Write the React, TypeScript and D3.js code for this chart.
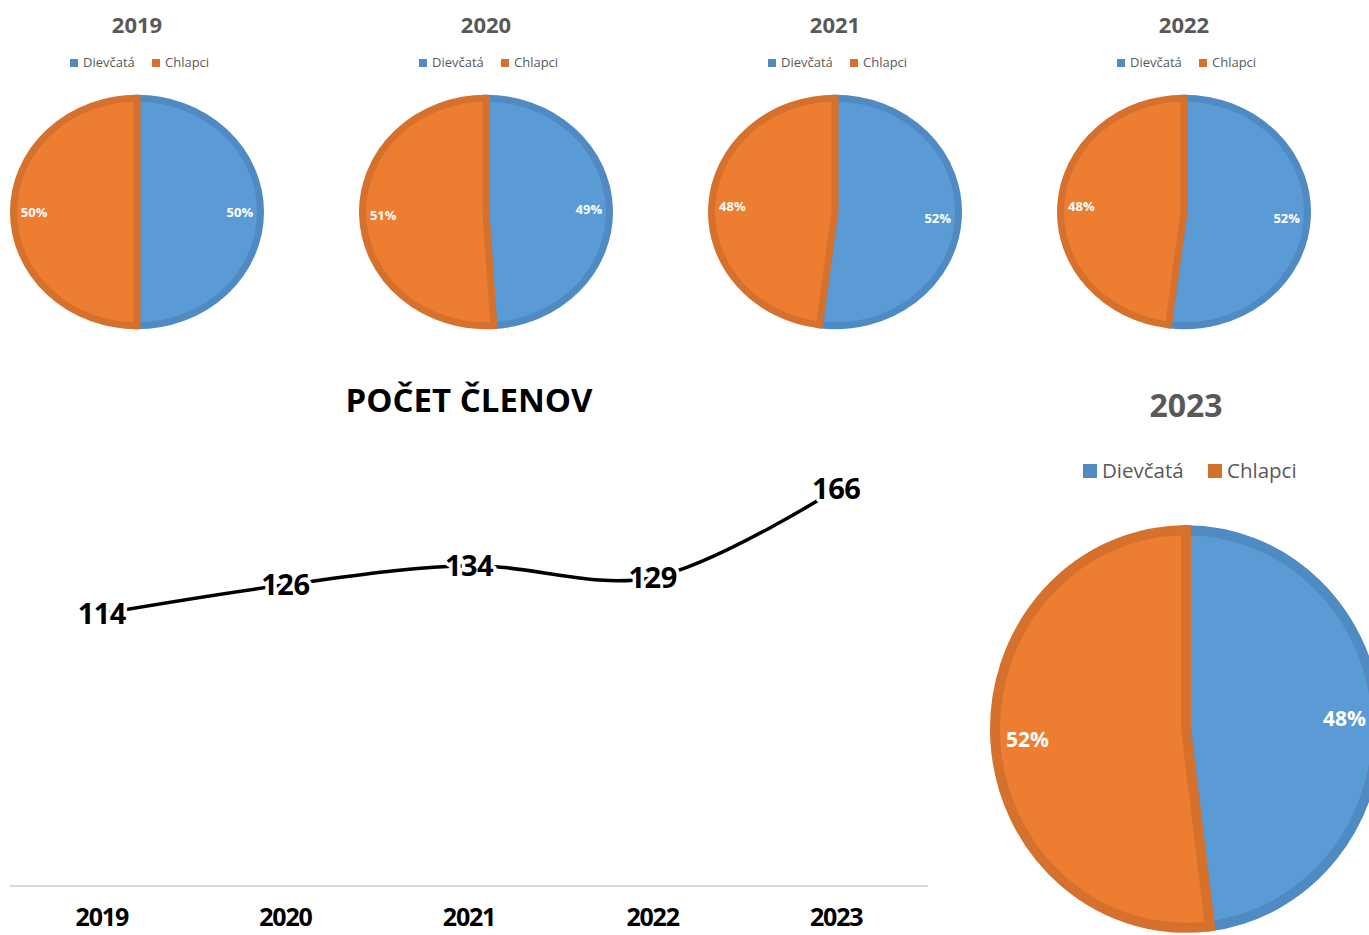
import React from "react";
import * as d3 from "d3";

const years = ["2019", "2020", "2021", "2022", "2023"];
const girlsPct = [50, 49, 52, 52, 48];
const boysPct = [50, 51, 48, 48, 52];
const members = [114, 126, 134, 129, 166];
const seriesNames = ["Dievčatá", "Chlapci"];

const W = 1369;
const H = 935;
const FONT = "'Open Sans', 'DejaVu Sans', sans-serif";
const fills = ["#5B9BD5", "#ED7D31"];
const strokes = ["#4F8AC2", "#D5702D"];
const grayText = "#595959";

interface PieProps {
  year: string;
  values: number[];
  cx: number;
  cy: number;
  rx: number;
  ry: number;
  big?: boolean;
}

const PieChart: React.FC<PieProps> = ({ year, values, cx, cy, rx, ry, big }) => {
  const sw = big ? 10 : 7;
  const pie = d3.pie<number>().sort(null).value((d) => d);
  const arcs = pie(values);
  const arc = d3
    .arc<d3.PieArcDatum<number>>()
    .innerRadius(0)
    .outerRadius(rx - sw / 2);

  // title + legend sizes
  const titleSize = big ? 32 : 22;
  const titleY = big ? cy - 312 : cy - 179;
  const legSize = big ? 20.5 : 13;
  const legY = big ? cy - 251 : cy - 145;
  const mk = big ? 14 : 8;
  const legOffsets = big ? [-103, 22] : [-67, 15];
  const textGap = big ? 19 : 13;
  const labelSize = big ? 21 : 13;

  return (
    <g>
      <text
        x={cx}
        y={titleY}
        textAnchor="middle"
        fontFamily={FONT}
        fontWeight="bold"
        fontSize={titleSize}
        fill={grayText}
      >
        {year}
      </text>
      {seriesNames.map((name, i) => (
        <g key={name}>
          <rect
            x={cx + legOffsets[i]}
            y={legY - mk}
            width={mk}
            height={mk}
            fill={i === 0 ? "#4F8AC2" : "#D5702D"}
          />
          <text
            x={cx + legOffsets[i] + textGap}
            y={legY}
            fontFamily={FONT}
            fontSize={legSize}
            fill={grayText}
          >
            {name}
          </text>
        </g>
      ))}
      <g transform={`translate(${cx},${cy}) scale(1,${ry / rx})`}>
        {arcs.map((a, i) => (
          <path
            key={i}
            d={arc(a) ?? ""}
            fill={fills[i]}
            stroke={strokes[i]}
            strokeWidth={sw}
            strokeLinejoin="miter"
            vectorEffect="non-scaling-stroke"
          />
        ))}
      </g>
      {arcs.map((a, i) => {
        const mid = (a.startAngle + a.endAngle) / 2;
        const lx = cx + Math.sin(mid) * 0.81 * rx;
        const ly = cy - Math.cos(mid) * 0.81 * ry;
        return (
          <text
            key={`l-${i}`}
            x={lx}
            y={ly}
            dy="0.35em"
            textAnchor="middle"
            fontFamily={FONT}
            fontWeight="bold"
            fontSize={labelSize}
            fill="#ffffff"
          >
            {`${a.data}%`}
          </text>
        );
      })}
    </g>
  );
};

const LineChart: React.FC = () => {
  const x = d3.scaleBand<string>().domain(years).range([10, 928]);
  const y = d3.scaleLinear().domain([0, 200]).range([886, 408]);
  const pts: [number, number][] = members.map((v, i) => [
    (x(years[i]) ?? 0) + x.bandwidth() / 2,
    y(v),
  ]);
  const line = d3.line().curve(d3.curveCatmullRom.alpha(0.5));

  return (
    <g>
      <text
        x={469}
        y={412}
        textAnchor="middle"
        fontFamily={FONT}
        fontWeight="bold"
        fontSize={33}
        fill="#000"
      >
        POČET ČLENOV
      </text>
      <line x1={10} x2={928} y1={886} y2={886} stroke="#D9D9D9" strokeWidth={2} />
      {years.map((yr) => (
        <text
          key={yr}
          x={(x(yr) ?? 0) + x.bandwidth() / 2}
          y={926}
          textAnchor="middle"
          fontFamily={FONT}
          fontWeight="bold"
          fontSize={25}
          letterSpacing={-1.2}
          fill="#000"
        >
          {yr}
        </text>
      ))}
      <path d={line(pts) ?? ""} fill="none" stroke="#000" strokeWidth={3.5} />
      {members.map((v, i) => (
        <text
          key={`v-${i}`}
          x={pts[i][0]}
          y={pts[i][1]}
          dy="0.35em"
          textAnchor="middle"
          fontFamily={FONT}
          fontWeight="bold"
          fontSize={29}
          letterSpacing={-0.5}
          fill="#000"
          stroke="#fff"
          strokeWidth={7}
          strokeLinejoin="round"
          paintOrder="stroke"
        >
          {v}
        </text>
      ))}
    </g>
  );
};

export default function App() {
  const smallYears = years.slice(0, 4);
  const px = d3.scalePoint<string>().domain(smallYears).range([137, 1184]);
  return (
    <div style={{ position: "absolute", left: 0, top: 0, width: W, height: H, overflow: "hidden" }}>
      <svg width={W} height={H} style={{ display: "block", background: "#fff" }}>
        {smallYears.map((yr, i) => (
          <PieChart
            key={yr}
            year={yr}
            values={[girlsPct[i], boysPct[i]]}
            cx={px(yr) ?? 0}
            cy={212}
            rx={127}
            ry={117}
          />
        ))}
        <LineChart />
        <PieChart
          year={years[4]}
          values={[girlsPct[4], boysPct[4]]}
          cx={1186}
          cy={729}
          rx={196}
          ry={204}
          big
        />
      </svg>
    </div>
  );
}
